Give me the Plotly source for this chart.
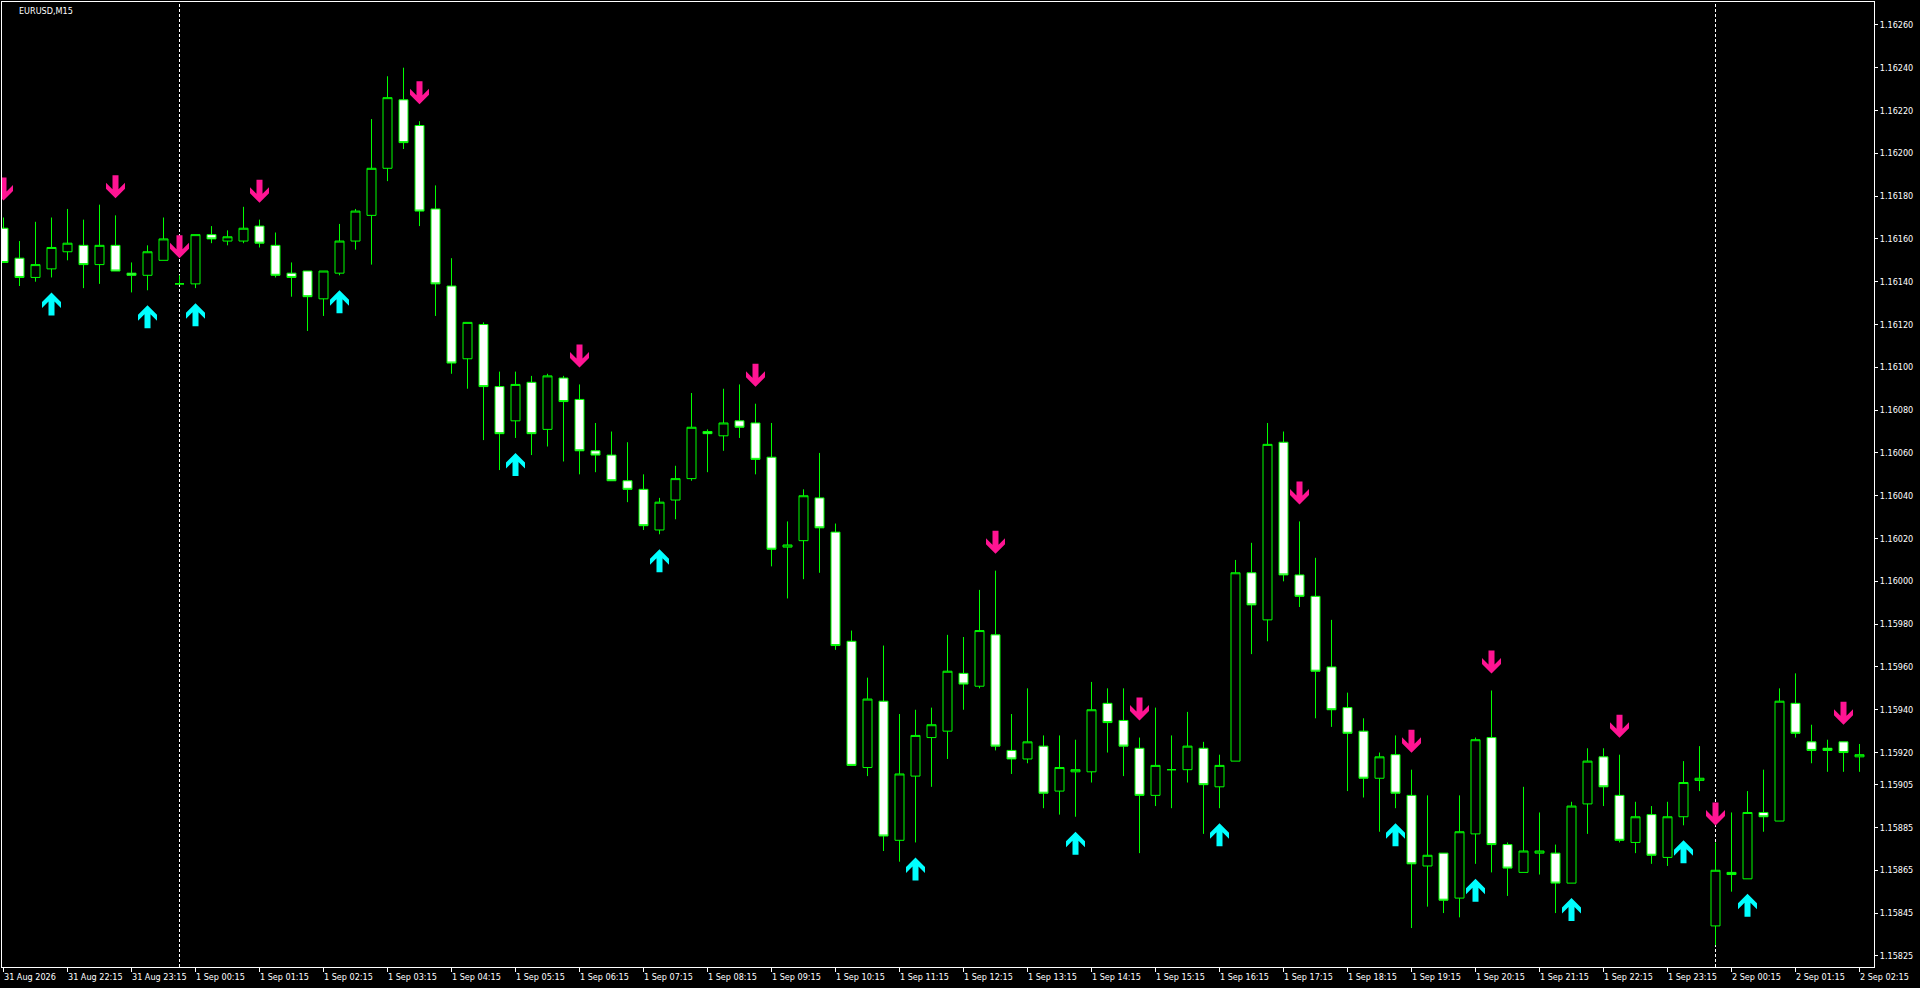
import pandas as pd
import plotly.graph_objects as go

symbol_label = "EURUSD,M15"
bar_times = pd.date_range("2026-08-31 21:15", periods=117, freq="15min")

open_ = [1.16165, 1.16151, 1.16142, 1.16146, 1.16154, 1.16157, 1.16148, 1.16157, 1.16144, 1.16143,
         1.16150, 1.16139, 1.16139, 1.16162, 1.16159, 1.16159, 1.16166, 1.16157, 1.16144, 1.16145,
         1.16132, 1.16144, 1.16159, 1.16171, 1.16193, 1.16225, 1.16213, 1.16174, 1.16138, 1.16104,
         1.16120, 1.16091, 1.16075, 1.16093, 1.16071, 1.16095, 1.16085, 1.16061, 1.16059, 1.16047,
         1.16043, 1.16024, 1.16038, 1.16048, 1.16070, 1.16068, 1.16075, 1.16074, 1.16058, 1.16016,
         1.16019, 1.16039, 1.16023, 1.15972, 1.15913, 1.15944, 1.15879, 1.15909, 1.15927, 1.15930,
         1.15957, 1.15951, 1.15975, 1.15921, 1.15917, 1.15923, 1.15902, 1.15911, 1.15911, 1.15943,
         1.15935, 1.15922, 1.15900, 1.15912, 1.15912, 1.15922, 1.15904, 1.15916, 1.16004, 1.15982,
         1.16065, 1.16003, 1.15993, 1.15960, 1.15941, 1.15930, 1.15908, 1.15919, 1.15900, 1.15867,
         1.15873, 1.15852, 1.15882, 1.15927, 1.15877, 1.15864, 1.15873, 1.15873, 1.15859, 1.15896,
         1.15918, 1.15900, 1.15878, 1.15891, 1.15871, 1.15890, 1.15907, 1.15839, 1.15864, 1.15861,
         1.15892, 1.15888, 1.15943, 1.15925, 1.15922, 1.15925, 1.15918]

high = [1.16170, 1.16159, 1.16168, 1.16170, 1.16174, 1.16169, 1.16176, 1.16171, 1.16149, 1.16157,
        1.16170, 1.16143, 1.16162, 1.16166, 1.16164, 1.16175, 1.16169, 1.16163, 1.16149, 1.16145,
        1.16145, 1.16167, 1.16174, 1.16216, 1.16236, 1.16240, 1.16215, 1.16185, 1.16151, 1.16121,
        1.16121, 1.16098, 1.16098, 1.16096, 1.16097, 1.16096, 1.16092, 1.16074, 1.16070, 1.16065,
        1.16050, 1.16039, 1.16054, 1.16088, 1.16071, 1.16090, 1.16092, 1.16083, 1.16074, 1.16028,
        1.16043, 1.16060, 1.16027, 1.15977, 1.15955, 1.15970, 1.15938, 1.15940, 1.15941, 1.15975,
        1.15974, 1.15996, 1.16005, 1.15938, 1.15950, 1.15928, 1.15928, 1.15926, 1.15953, 1.15950,
        1.15950, 1.15927, 1.15941, 1.15928, 1.15939, 1.15925, 1.15919, 1.16010, 1.16018, 1.16074,
        1.16070, 1.16028, 1.16011, 1.15982, 1.15948, 1.15936, 1.15920, 1.15928, 1.15912, 1.15900,
        1.15873, 1.15900, 1.15927, 1.15949, 1.15878, 1.15904, 1.15892, 1.15877, 1.15897, 1.15922,
        1.15922, 1.15919, 1.15897, 1.15895, 1.15897, 1.15916, 1.15923, 1.15878, 1.15892, 1.15902,
        1.15912, 1.15950, 1.15957, 1.15933, 1.15926, 1.15925, 1.15924]

low = [1.16149, 1.16138, 1.16140, 1.16142, 1.16150, 1.16137, 1.16139, 1.16145, 1.16135, 1.16136,
       1.16150, 1.16139, 1.16137, 1.16158, 1.16157, 1.16158, 1.16156, 1.16142, 1.16133, 1.16117,
       1.16124, 1.16143, 1.16155, 1.16148, 1.16187, 1.16202, 1.16166, 1.16124, 1.16097, 1.16090,
       1.16066, 1.16052, 1.16067, 1.16059, 1.16063, 1.16056, 1.16050, 1.16051, 1.16047, 1.16037,
       1.16024, 1.16022, 1.16029, 1.16047, 1.16051, 1.16061, 1.16067, 1.16050, 1.16007, 1.15992,
       1.16001, 1.16004, 1.15968, 1.15914, 1.15909, 1.15874, 1.15869, 1.15878, 1.15904, 1.15917,
       1.15940, 1.15950, 1.15921, 1.15910, 1.15915, 1.15894, 1.15891, 1.15890, 1.15906, 1.15920,
       1.15909, 1.15873, 1.15895, 1.15894, 1.15906, 1.15882, 1.15894, 1.15916, 1.15966, 1.15972,
       1.16000, 1.15988, 1.15936, 1.15932, 1.15902, 1.15899, 1.15883, 1.15894, 1.15838, 1.15848,
       1.15845, 1.15843, 1.15868, 1.15864, 1.15853, 1.15864, 1.15863, 1.15845, 1.15859, 1.15882,
       1.15895, 1.15878, 1.15873, 1.15868, 1.15867, 1.15886, 1.15902, 1.15830, 1.15855, 1.15861,
       1.15883, 1.15888, 1.15927, 1.15915, 1.15911, 1.15911, 1.15911]

close = [1.16149, 1.16142, 1.16148, 1.16156, 1.16158, 1.16148, 1.16157, 1.16145, 1.16143, 1.16154,
         1.16160, 1.16139, 1.16162, 1.16160, 1.16161, 1.16165, 1.16158, 1.16143, 1.16142, 1.16133,
         1.16145, 1.16159, 1.16173, 1.16193, 1.16226, 1.16205, 1.16173, 1.16139, 1.16102, 1.16121,
         1.16091, 1.16069, 1.16092, 1.16069, 1.16096, 1.16084, 1.16061, 1.16059, 1.16047, 1.16043,
         1.16026, 1.16037, 1.16048, 1.16072, 1.16069, 1.16074, 1.16072, 1.16057, 1.16015, 1.16017,
         1.16040, 1.16025, 1.15970, 1.15914, 1.15945, 1.15881, 1.15910, 1.15928, 1.15933, 1.15958,
         1.15952, 1.15977, 1.15923, 1.15917, 1.15925, 1.15901, 1.15913, 1.15912, 1.15940, 1.15934,
         1.15923, 1.15900, 1.15914, 1.15912, 1.15923, 1.15905, 1.15914, 1.16004, 1.15989, 1.16064,
         1.16003, 1.15993, 1.15958, 1.15940, 1.15929, 1.15908, 1.15918, 1.15901, 1.15868, 1.15872,
         1.15851, 1.15883, 1.15926, 1.15877, 1.15866, 1.15874, 1.15874, 1.15859, 1.15895, 1.15916,
         1.15904, 1.15879, 1.15890, 1.15872, 1.15890, 1.15906, 1.15908, 1.15865, 1.15863, 1.15892,
         1.15890, 1.15944, 1.15929, 1.15921, 1.15921, 1.15920, 1.15919]

# indicator signals (bar indices)
sell_signal_bars = [0, 7, 11, 16, 26, 36, 47, 62, 71, 81, 88, 93, 101, 107, 115]
buy_signal_bars = [3, 9, 12, 21, 32, 41, 57, 67, 76, 87, 92, 98, 105, 109]

price_tick_values = [1.16260, 1.16240, 1.16220, 1.16200, 1.16180, 1.16160, 1.16140, 1.16120,
                     1.16100, 1.16080, 1.16060, 1.16040, 1.16020, 1.16000, 1.15980, 1.15960,
                     1.15940, 1.15920, 1.15905, 1.15885, 1.15865, 1.15845, 1.15825]
price_tick_labels = ["%.5f" % v for v in price_tick_values]

time_tick_labels = ["31 Aug 2026", "31 Aug 22:15", "31 Aug 23:15", "1 Sep 00:15", "1 Sep 01:15",
                    "1 Sep 02:15", "1 Sep 03:15", "1 Sep 04:15", "1 Sep 05:15", "1 Sep 06:15",
                    "1 Sep 07:15", "1 Sep 08:15", "1 Sep 09:15", "1 Sep 10:15", "1 Sep 11:15",
                    "1 Sep 12:15", "1 Sep 13:15", "1 Sep 14:15", "1 Sep 15:15", "1 Sep 16:15",
                    "1 Sep 17:15", "1 Sep 18:15", "1 Sep 19:15", "1 Sep 20:15", "1 Sep 21:15",
                    "1 Sep 22:15", "1 Sep 23:15", "2 Sep 00:15", "2 Sep 01:15", "2 Sep 02:15"]
time_tick_step = 4

# ---------------------------------------------------------------- styling
W, H = 1920, 988
ML, MR, MT, MB = 2, 46, 2, 21
BG = "#000000"
FG = "#FFFFFF"
CANDLE_LINE = "#00FF00"
SELL_COLOR = "#FF1493"
BUY_COLOR = "#00FFFF"
FONT = "Tahoma, 'DejaVu Sans Condensed', 'Liberation Sans', sans-serif"
FONT_SIZE = 9

n = len(open_)
bars = list(range(n))

fig = go.Figure()
fig.add_trace(go.Candlestick(
    x=bars, open=open_, high=high, low=low, close=close,
    increasing=dict(line=dict(color=CANDLE_LINE, width=1), fillcolor=BG),
    decreasing=dict(line=dict(color=CANDLE_LINE, width=1), fillcolor=FG),
    whiskerwidth=0, showlegend=False, hoverinfo="skip",
))

shapes = []
# period separators at the start of each day
for i, t in enumerate(bar_times):
    if t.hour == 0 and t.minute == 0:
        shapes.append(dict(type="line", xref="x", yref="paper", x0=i, x1=i, y0=0, y1=1,
                           line=dict(color=FG, width=1, dash="3px,2px"), layer="below"))

# arrow glyph (pixels, y up, tip at origin, pointing down)
arrow_poly = [(0, 0), (9.5, 9.5), (9.5, 15.5), (3, 9), (3, 23), (-3, 23), (-3, 9),
              (-9.5, 15.5), (-9.5, 9.5)]
SELL_GAP, BUY_GAP = 17, 15


def path_from(points):
    return "M " + " L ".join("%.1f,%.1f" % p for p in points) + " Z"


for b in sell_signal_bars:
    pts = [(px, SELL_GAP + py) for px, py in arrow_poly]
    shapes.append(dict(type="path", xref="x", yref="y", xsizemode="pixel", ysizemode="pixel",
                       xanchor=b, yanchor=high[b], path=path_from(pts),
                       fillcolor=SELL_COLOR, line=dict(width=0), layer="above"))
for b in buy_signal_bars:
    pts = [(px, -(BUY_GAP + py)) for px, py in arrow_poly]
    shapes.append(dict(type="path", xref="x", yref="y", xsizemode="pixel", ysizemode="pixel",
                       xanchor=b, yanchor=low[b], path=path_from(pts),
                       fillcolor=BUY_COLOR, line=dict(width=0), layer="above"))

annotations = [dict(text=symbol_label, xref="paper", yref="paper", x=0, y=1, xanchor="left",
                    yanchor="middle", xshift=15, yshift=-9, showarrow=False,
                    font=dict(family=FONT, size=FONT_SIZE, color=FG))]
for j, lab in enumerate(time_tick_labels):
    annotations.append(dict(text=lab, xref="x", yref="paper", x=j * time_tick_step, y=0,
                            xanchor="left", yanchor="middle", xshift=-2, yshift=-10,
                            showarrow=False, font=dict(family=FONT, size=FONT_SIZE, color=FG)))

fig.update_layout(
    width=W, height=H, margin=dict(l=ML, r=MR, t=MT, b=MB, pad=0),
    paper_bgcolor=BG, plot_bgcolor=BG,
    boxgap=0.4375, boxgroupgap=0,
    shapes=shapes, annotations=annotations,
    font=dict(family=FONT, size=FONT_SIZE, color=FG),
    xaxis=dict(range=[-0.09375, n - 0.09375], showgrid=False, zeroline=False,
               showline=True, linecolor=FG, linewidth=1, mirror=True,
               ticks="outside", ticklen=4, tickcolor=FG, tickwidth=1,
               tickvals=list(range(0, n, time_tick_step)), showticklabels=False,
               rangeslider=dict(visible=False), fixedrange=True),
    yaxis=dict(range=[1.158198, 1.162707], side="right", showgrid=False, zeroline=False,
               showline=True, linecolor=FG, linewidth=1, mirror=True,
               ticks="outside", ticklen=3, tickcolor=FG, tickwidth=1,
               tickvals=price_tick_values, ticktext=price_tick_labels,
               tickfont=dict(family=FONT, size=FONT_SIZE, color=FG), fixedrange=True),
    hovermode=False,
)

fig.write_html("out.html", config={"displayModeBar": False, "staticPlot": True},
               post_script="document.body.style.margin='0';document.body.style.overflow='hidden';document.body.style.background='#000';")
